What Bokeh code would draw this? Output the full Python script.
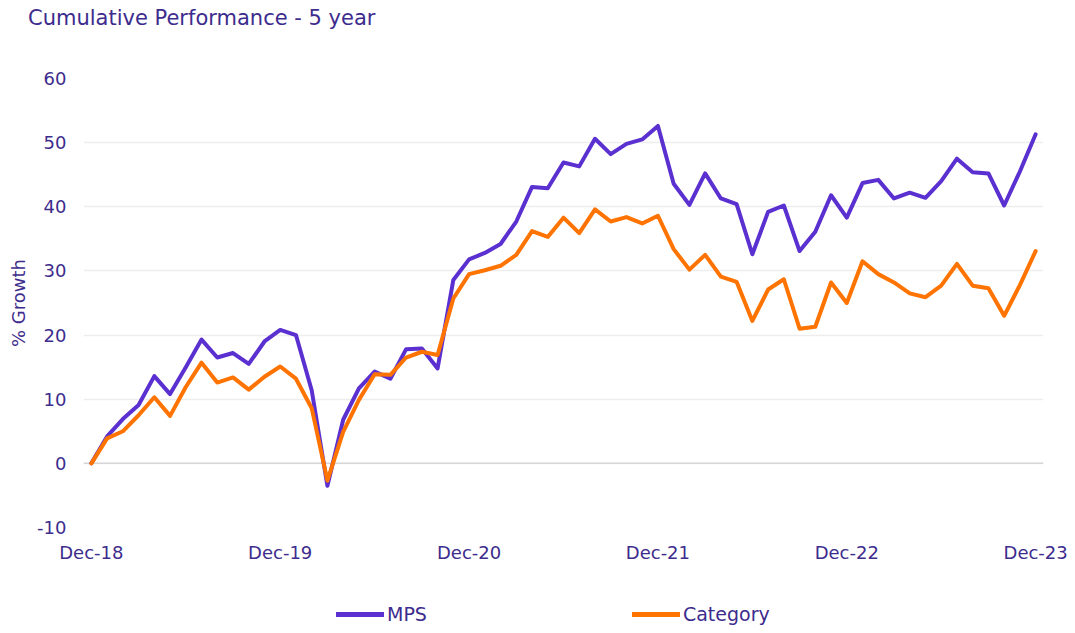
from bokeh.plotting import figure
from bokeh.layouts import column
from bokeh.models import Range1d, FixedTicker, Span, Legend, LegendItem, Div
from bokeh.embed import file_html
from bokeh.resources import INLINE

# Month index 0 = Dec-18 ... 60 = Dec-23
title_text = "Cumulative Performance - 5 year"
tick_labels = ["Dec-18", "Dec-19", "Dec-20", "Dec-21", "Dec-22", "Dec-23"]
tick_positions = [0, 12, 24, 36, 48, 60]
y_ticks = [-10, 0, 10, 20, 30, 40, 50, 60]
series_names = ["MPS", "Category"]

mps = [0.0, 4.2, 6.9, 9.1, 13.6, 10.8, 15.0, 19.3, 16.5, 17.2, 15.5, 19.0, 20.8,
       20.0, 11.4, -3.5, 6.8, 11.7, 14.3, 13.2, 17.8, 17.9, 14.8, 28.6, 31.8,
       32.8, 34.2, 37.7, 43.1, 42.9, 46.9, 46.3, 50.6, 48.2, 49.8, 50.5, 52.6,
       43.6, 40.3, 45.2, 41.3, 40.4, 32.6, 39.2, 40.2, 33.1, 36.1, 41.8, 38.3,
       43.7, 44.2, 41.3, 42.2, 41.4, 44.0, 47.5, 45.4, 45.2, 40.2, 45.5, 51.3]

category = [0.0, 3.9, 5.0, 7.5, 10.3, 7.4, 11.9, 15.7, 12.6, 13.4, 11.5, 13.5, 15.1,
            13.2, 8.6, -2.7, 4.9, 9.9, 13.9, 13.8, 16.5, 17.4, 16.9, 25.7, 29.5,
            30.1, 30.8, 32.5, 36.2, 35.3, 38.3, 35.9, 39.6, 37.7, 38.4, 37.4, 38.6,
            33.4, 30.2, 32.5, 29.1, 28.3, 22.2, 27.1, 28.7, 21.0, 21.3, 28.2, 25.0,
            31.5, 29.5, 28.2, 26.5, 25.9, 27.7, 31.1, 27.7, 27.3, 23.0, 27.8, 33.1]

months = list(range(len(mps)))

TEXT = "#3D2C8D"
PURPLE = "#5B30D0"
ORANGE = "#FF7300"
FONT = "DejaVu Sans"

header = Div(text=title_text, width=1075, height=60, margin=(0, 0, 0, 0),
             styles={"font-family": FONT, "font-size": "21px", "color": TEXT,
                     "padding-left": "28px", "padding-top": "5px",
                     "line-height": "26px", "white-space": "nowrap"})

p = figure(width=1075, height=520, output_backend="svg", toolbar_location=None,
           x_range=Range1d(-0.5, 60.5), y_range=Range1d(-10, 60),
           min_border_left=83, min_border_right=32, min_border_top=18,
           min_border_bottom=53, outline_line_color=None)

p.xgrid.grid_line_color = None
p.ygrid.grid_line_color = "#EDEDED"
p.ygrid.grid_line_width = 1.5
p.yaxis.ticker = FixedTicker(ticks=y_ticks)
p.yaxis.major_label_overrides = {t: str(t) for t in y_ticks}
p.xaxis.ticker = FixedTicker(ticks=tick_positions)
p.xaxis.major_label_overrides = {t: l for t, l in zip(tick_positions, tick_labels)}

for ax in (p.xaxis[0], p.yaxis[0]):
    ax.axis_line_color = None
    ax.major_tick_line_color = None
    ax.minor_tick_line_color = None
    ax.major_label_text_font = FONT
    ax.major_label_text_font_size = "18px"
    ax.major_label_text_color = TEXT

p.yaxis.major_label_standoff = 11
p.xaxis.major_label_standoff = 8
p.yaxis.axis_label = "% Growth"
p.yaxis.axis_label_text_font = FONT
p.yaxis.axis_label_text_font_size = "18px"
p.yaxis.axis_label_text_font_style = "normal"
p.yaxis.axis_label_text_color = TEXT
p.yaxis.axis_label_standoff = 5

zero = Span(location=0, dimension="width", line_color="#D6D6D6", line_width=1.5, level="underlay")
p.add_layout(zero)

p.line(months, mps, line_color=PURPLE, line_width=4, line_join="round", line_cap="round")
p.line(months, category, line_color=ORANGE, line_width=4, line_join="round", line_cap="round")

# Legend strip below the chart (single-point lines draw nothing; they only carry the legend style)
lg = figure(width=1075, height=53, output_backend="svg", toolbar_location=None,
            min_border=0, outline_line_color=None, x_range=Range1d(-0.5, 60.5),
            y_range=Range1d(-10, 60))
lg.axis.visible = False
lg.grid.visible = False
l1 = lg.line(months[:1], mps[:1], line_color=PURPLE, line_width=5, line_cap="round")
l2 = lg.line(months[:1], category[:1], line_color=ORANGE, line_width=5, line_cap="round")
legend = Legend(items=[LegendItem(label=series_names[0], renderers=[l1]),
                       LegendItem(label=series_names[1], renderers=[l2])],
                orientation="horizontal", location=(253, 8),
                glyph_width=48, glyph_height=20, label_standoff=3, spacing=205,
                padding=0, margin=0, border_line_color=None,
                background_fill_alpha=0,
                label_text_font=FONT, label_text_font_size="19px",
                label_text_color=TEXT)
lg.add_layout(legend, "center")

layout = column(header, p, lg, spacing=0)
open("out.html", "w").write(file_html(layout, INLINE))
